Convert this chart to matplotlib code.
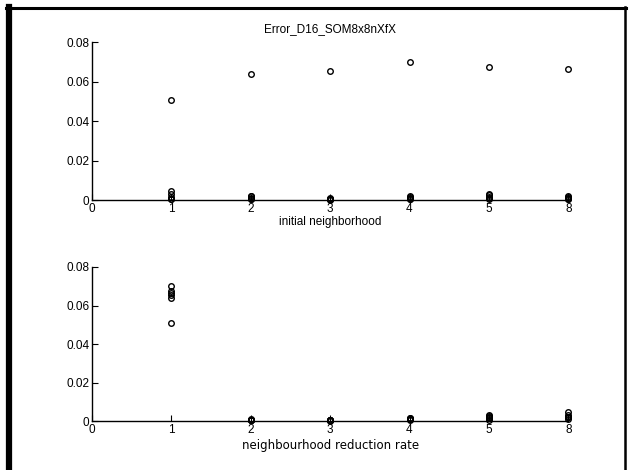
import matplotlib
matplotlib.use("Agg")
import matplotlib.pyplot as plt
from matplotlib.lines import Line2D
import numpy as np

# Parameter values (categorical x positions)
param_labels = ["0", "1", "2", "3", "4", "5", "8"]
init_values = ["1", "2", "3", "4", "5", "8"]
rate_values = ["1", "2", "3", "4", "5", "8"]

# error[i][j]: initial neighborhood i, reduction rate j
err_init1 = [0.0510, 0.0005, 0.0008, 0.0015, 0.0030, 0.0045]
err_init2 = [0.0640, 0.0008, 0.0005, 0.0010, 0.0020, 0.0020]
err_init3 = [0.0655, 0.0005, 0.0003, 0.0008, 0.0008, 0.0010]
err_init4 = [0.0700, 0.0008, 0.0004, 0.0012, 0.0018, 0.0020]
err_init5 = [0.0675, 0.0010, 0.0005, 0.0015, 0.0025, 0.0030]
err_init8 = [0.0665, 0.0008, 0.0005, 0.0012, 0.0018, 0.0022]

y_ticks = [0, 0.02, 0.04, 0.06, 0.08]
y_ticklabels = ["0", "0.02", "0.04", "0.06", "0.08"]
title = "Error_D16_SOM8x8nXfX"
xlabel_top = "initial neighborhood"
xlabel_bottom = "neighbourhood reduction rate"

E = np.array([err_init1, err_init2, err_init3, err_init4, err_init5, err_init8])

plt.rcParams['font.family'] = ['Liberation Sans', 'DejaVu Sans']
fig = plt.figure(figsize=(6.3, 4.7), dpi=100)
fig.patch.set_facecolor('white')

ax1 = fig.add_axes([0.146, 0.574, 0.756, 0.336])
ax2 = fig.add_axes([0.146, 0.104, 0.756, 0.328])

def style(ax, xlabel, xfont, xfs, lpad):
    ax.set_xlim(0, 6)
    ax.set_ylim(0, 0.08)
    ax.set_xticks(range(len(param_labels)))
    ax.set_xticklabels(param_labels, fontsize=8.5)
    ax.set_yticks(y_ticks)
    ax.set_yticklabels(y_ticklabels, fontsize=8.5)
    ax.spines['top'].set_visible(False)
    ax.spines['right'].set_visible(False)
    for s in ['left', 'bottom']:
        ax.spines[s].set_linewidth(1.0)
    ax.tick_params(direction='in', length=4, width=0.8, pad=2)
    ax.set_xlabel(xlabel, fontsize=xfs, labelpad=lpad, family=xfont)

# upper: grouped by initial neighborhood
for i in range(len(init_values)):
    ax1.plot(np.full(E.shape[1], i + 1), E[i, :], 'o', mfc='none', mec='black',
             ms=4.0, mew=1.0, clip_on=False)
# lower: grouped by reduction rate
for j in range(len(rate_values)):
    ax2.plot(np.full(E.shape[0], j + 1), E[:, j], 'o', mfc='none', mec='black',
             ms=4.0, mew=1.0, clip_on=False)

style(ax1, xlabel_top, ['Liberation Sans', 'DejaVu Sans'], 8.5, 1)
style(ax2, xlabel_bottom, ['DejaVu Sans'], 8.5, 2)
ax1.set_title(title, fontsize=8.5, pad=7)

# figure frame
fig.add_artist(Line2D([9/630, 9/630], [0, 1 - 7/470], color='black', lw=4.5,
                      transform=fig.transFigure))
fig.add_artist(Line2D([6/630, 626/630], [1 - 8/470, 1 - 8/470], color='black', lw=2.2,
                      transform=fig.transFigure))
fig.add_artist(Line2D([625/630, 625/630], [0, 1 - 7/470], color='black', lw=1.8,
                      transform=fig.transFigure))

fig.savefig("out.png", dpi=100)
